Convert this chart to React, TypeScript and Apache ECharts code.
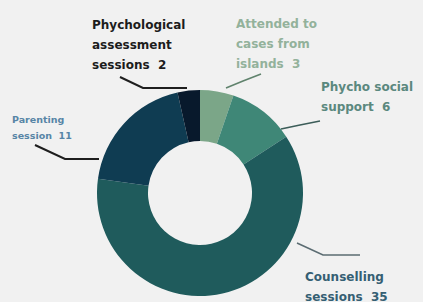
import React, { useEffect, useRef } from "react";
import * as echarts from "echarts";

// Data
const categories = [
  "Attended to cases from islands",
  "Phycho social support",
  "Counselling sessions",
  "Parenting session",
  "Phychological assessment sessions",
];
const values = [3, 6, 35, 11, 2];
const labelTexts = [
  "Attended to\ncases from\nislands",
  "Phycho social\nsupport",
  "Counselling\nsessions",
  "Parenting\nsession",
  "Phychological\nassessment\nsessions",
];

// Styles
const sliceColors = ["#7ba688", "#3f8777", "#1f5b5c", "#0f3c52", "#08192c"];
const labelColors = ["#93b29b", "#5b887e", "#355f73", "#5785a6", "#1c1c1c"];
const lineColors = ["#60836d", "#3c5d59", "#5b6c72", "#1e1e1e", "#1e1e1e"];
const fontSizes = [12, 12, 12, 9.5, 12];
const lineHeights = [20, 20, 20, 16, 20];
const labelPos = [
  [236, 14],
  [321, 77],
  [305, 267],
  [12, 111],
  [92, 15],
];
const linePts = [
  [[226, 88], [243, 81], [261, 74]],
  [[281, 129], [300, 125], [320, 121]],
  [[297, 243], [323, 255], [360, 255]],
  [[35, 145], [65, 159], [99, 159]],
  [[120, 77], [143, 88], [187, 88]],
];

export default function App() {
  const ref = useRef<HTMLDivElement>(null);
  useEffect(() => {
    document.body.style.margin = "0";
    const chart = echarts.init(ref.current!, null, { renderer: "svg" });
    chart.setOption({
      animation: false,
      backgroundColor: "#f1f1f1",
      series: [
        {
          type: "pie",
          center: [200, 193],
          radius: [52, 103],
          startAngle: 90,
          clockwise: true,
          avoidLabelOverlap: false,
          data: categories.map((name, i) => ({
            name,
            value: values[i],
            itemStyle: { color: sliceColors[i] },
            label: {
              color: labelColors[i],
              fontSize: fontSizes[i],
              lineHeight: lineHeights[i],
            },
            labelLine: { lineStyle: { color: lineColors[i], width: i >= 3 ? 2 : 1.6 } },
          })),
          label: {
            show: true,
            position: "outside",
            fontFamily: "DejaVu Sans",
            fontWeight: "bold",
            width: 140,
            overflow: "none",
            formatter: (p: any) => `${labelTexts[p.dataIndex]}  ${p.value}`,
          },
          labelLine: { show: true, smooth: false },
          labelLayout: (p: any) => ({
            x: labelPos[p.dataIndex][0],
            y: labelPos[p.dataIndex][1],
            align: "left",
            verticalAlign: "top",
            labelLinePoints: linePts[p.dataIndex],
          }),
        },
      ],
    });
    return () => chart.dispose();
  }, []);
  return (
    <div
      ref={ref}
      style={{ width: 423, height: 302, position: "absolute", left: 0, top: 0 }}
    />
  );
}
